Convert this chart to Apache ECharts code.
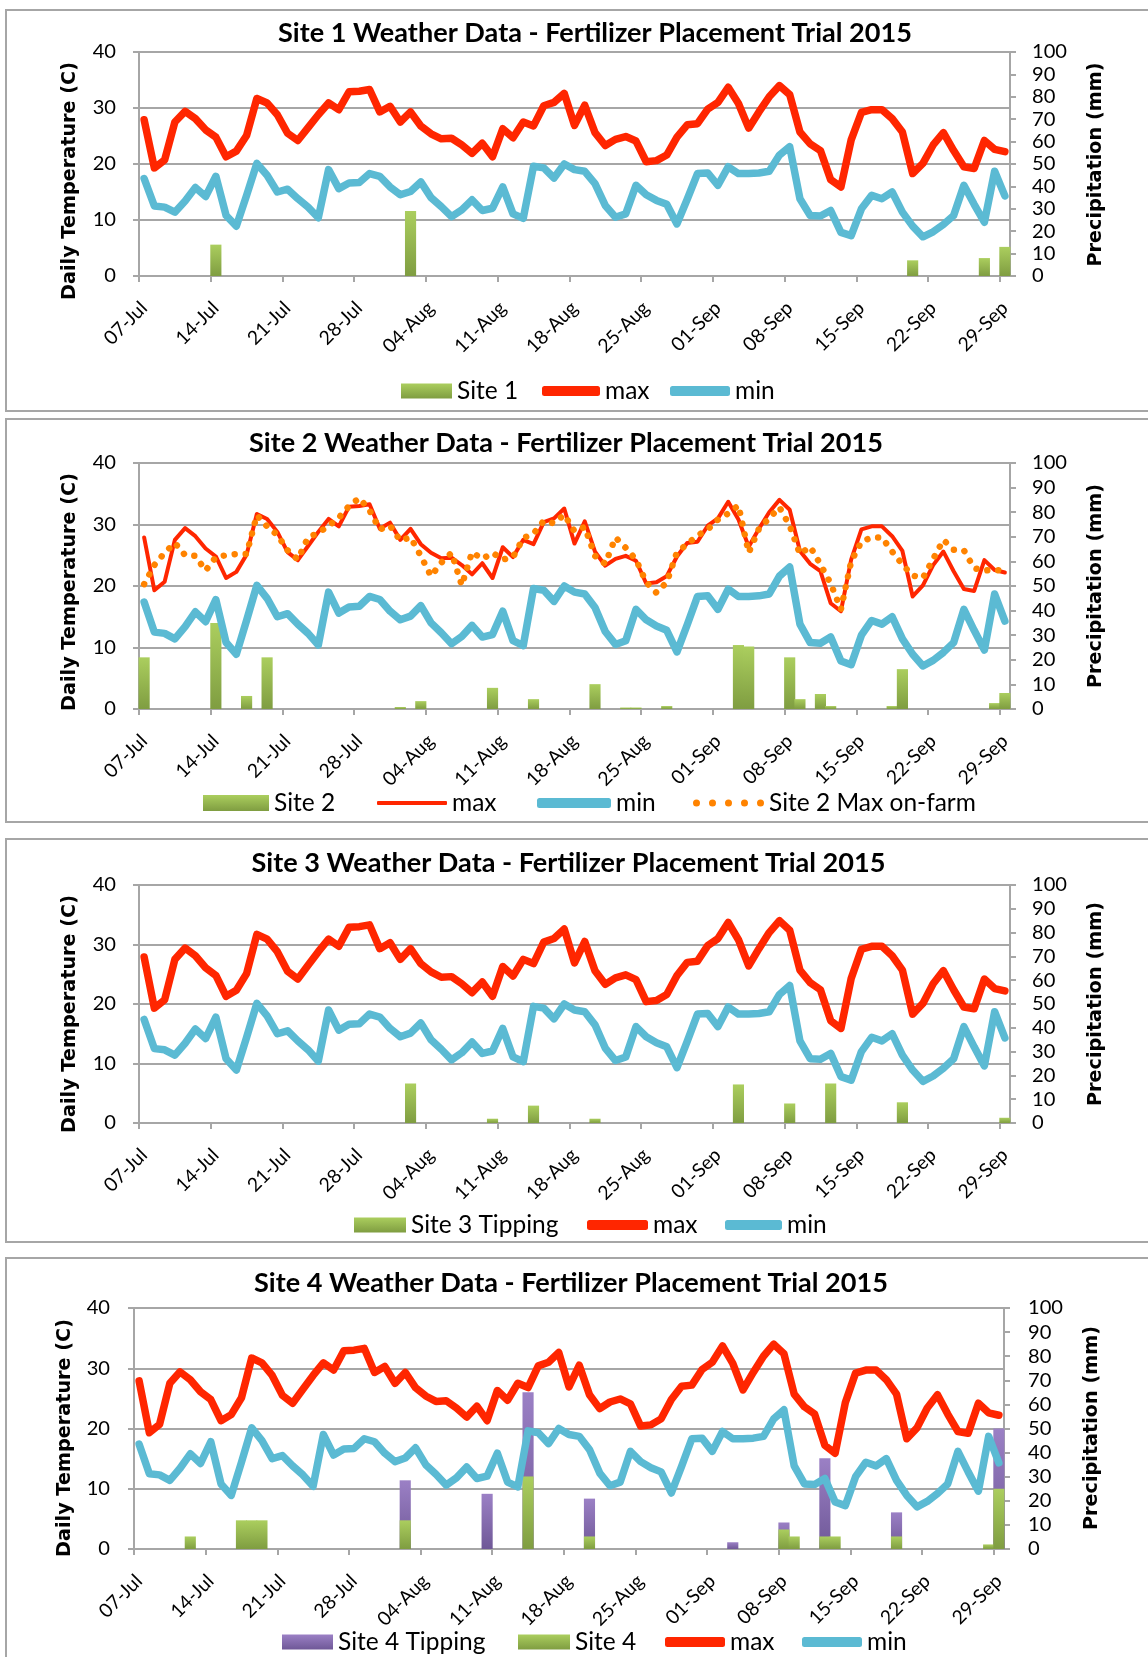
<!DOCTYPE html>
<html><head><meta charset="utf-8">
<script src="https://cdn.jsdelivr.net/npm/echarts@6/dist/echarts.min.js"></script>
<style>html,body{margin:0;padding:0;background:#fff;}#c{width:1148px;height:1657px;}</style>
</head><body><div id="c"></div>
<script>
// ---------------- DATA ----------------
const dayCount = 85; // 07-Jul .. 29-Sep
const tickLabels = ['07-Jul','14-Jul','21-Jul','28-Jul','04-Aug','11-Aug','18-Aug','25-Aug','01-Sep','08-Sep','15-Sep','22-Sep','29-Sep'];
const maxTemp = [27.9,19.3,20.7,27.5,29.4,28.1,26.1,24.8,21.3,22.3,25.1,31.7,30.9,28.8,25.5,24.2,26.5,28.8,30.9,29.7,32.9,33.0,33.3,29.3,30.3,27.5,29.3,26.8,25.4,24.5,24.6,23.4,21.9,23.7,21.3,26.3,24.7,27.5,26.8,30.4,31.0,32.6,26.9,30.5,25.6,23.3,24.4,24.9,24.1,20.4,20.6,21.6,24.8,27.0,27.2,29.8,31.0,33.7,30.8,26.4,29.3,32.0,34.0,32.4,25.7,23.6,22.4,17.2,15.9,24.3,29.2,29.7,29.7,28.1,25.7,18.3,20.1,23.4,25.6,22.4,19.5,19.2,24.2,22.6,22.2];
const minTemp = [17.4,12.5,12.3,11.4,13.4,15.8,14.2,17.8,10.8,8.9,14.4,20.1,18.0,15.0,15.5,13.8,12.3,10.4,19.0,15.6,16.6,16.7,18.3,17.8,15.9,14.5,15.1,16.8,14.0,12.4,10.6,11.8,13.6,11.7,12.1,15.9,11.1,10.3,19.6,19.3,17.5,20.0,19.0,18.7,16.5,12.6,10.5,11.1,16.2,14.5,13.5,12.8,9.3,13.7,18.3,18.4,16.2,19.5,18.3,18.3,18.4,18.7,21.6,23.1,13.8,10.8,10.7,11.7,7.8,7.2,12.0,14.4,13.8,15.0,11.4,8.9,7.0,7.9,9.2,10.8,16.2,12.8,9.6,18.7,14.3];
const site2OnFarmMax = [20.3,23.4,25.4,27.0,25.0,24.9,22.5,24.7,25.0,25.2,25.2,31.5,29.7,28.3,25.8,24.3,27.9,28.6,29.8,31.1,33.0,34.3,32.3,29.2,29.8,27.4,27.9,24.9,21.6,23.8,25.4,20.1,25.5,24.4,25.4,24.3,24.7,27.8,28.5,30.6,30.2,31.6,28.9,29.6,24.9,23.6,27.9,26.2,24.3,20.6,18.9,20.6,25.5,26.8,28.2,29.2,30.8,31.8,33.1,25.4,29.3,31.0,32.8,29.8,25.2,26.4,23.5,20.4,16.2,24.0,27.2,27.9,27.9,25.6,23.5,21.7,21.3,24.4,27.5,25.9,25.8,22.9,22.5,22.7,22.3];
// precipitation (mm): day index (0 = 07-Jul) and amount
const site1RainDay = [7, 26, 75, 82, 84];
const site1Rain    = [14, 29, 7, 8, 13];
const site2RainDay = [0, 7, 10, 12, 25, 27, 34, 38, 44, 47, 48, 51, 58, 59, 63, 64, 66, 67, 73, 74, 83, 84];
const site2Rain    = [21, 35, 5.3, 21, 0.8, 3.2, 8.6, 4, 10.1, 0.6, 0.6, 1.2, 26, 25.4, 21, 4, 6.1, 1.2, 1.2, 16.2, 2.4, 6.5];
const site3RainDay = [26, 34, 38, 44, 58, 63, 67, 74, 84];
const site3Rain    = [16.6, 1.8, 7.3, 1.8, 16.2, 8.2, 16.6, 8.7, 2.2];
const site4TipDay  = [26, 34, 38, 44, 58, 63, 67, 74, 84];
const site4Tip     = [28.5, 22.9, 65, 20.9, 2.8, 11, 37.7, 15.2, 50];
const site4RainDay = [5, 10, 11, 12, 26, 38, 44, 63, 64, 67, 68, 74, 83, 84];
const site4Rain    = [5.2, 11.9, 11.9, 11.9, 11.9, 30.1, 5.2, 8.1, 5.2, 5.2, 5.2, 5.2, 1.9, 25];

// ---------------- STYLE ----------------
const RED = '#ff2600', BLUE = '#5bbad3', ORANGE = '#ff8300', GRID = '#a6a6a6';
const GREEN = new echarts.graphic.LinearGradient(0,0,0,1,[{offset:0,color:'#abce5e'},{offset:1,color:'#7f9d41'}]);
const PURPLE = new echarts.graphic.LinearGradient(0,0,0,1,[{offset:0,color:'#9b80c5'},{offset:1,color:'#6f5897'}]);
const LF = 'Lato, "Liberation Sans", sans-serif';
const BF = '"DejaVu Sans", Verdana, sans-serif';
const mctx = document.createElement('canvas').getContext('2d');
function fit(text, weight, family, target){ mctx.font = weight + ' 100px ' + family; return 100*target/mctx.measureText(text).width; }
const titleSize = fit('Site 1 Weather Data - Fertilizer Placement Trial 2015','bold',LF,634);
const axisNameSize = fit('Daily Temperature (C)','bold',BF,238);
const legendSize = fit('Site 2 Max on-farm','normal',LF,207);
const tickSize = fit('100','normal',LF,35);
const xTickSize = fit('29-Sep','normal',LF,61);
const LH = 26;

const panels = [
  {grid:{left:139,top:52,width:871,height:224}, title:'Site 1 Weather Data - Fertilizer Placement Trial 2015', tx:595, ty:33,
   ln:[69.5,181], rn:[1096,164.5], box:[6,10,1180,401]},
  {grid:{left:139,top:463,width:871,height:246}, title:'Site 2 Weather Data - Fertilizer Placement Trial 2015', tx:566, ty:443,
   ln:[69.5,592], rn:[1096,586], box:[6,419,1180,403]},
  {grid:{left:139,top:885,width:871,height:238}, title:'Site 3 Weather Data - Fertilizer Placement Trial 2015', tx:568.5, ty:863,
   ln:[69.5,1014], rn:[1096,1004], box:[6,839,1180,403]},
  {grid:{left:134,top:1308,width:870,height:241}, title:'Site 4 Weather Data - Fertilizer Placement Trial 2015', tx:571, ty:1283,
   ln:[64.5,1438], rn:[1092,1428], box:[6,1258,1180,500]}
];

const option = {animation:false, backgroundColor:'#fff', grid:[], xAxis:[], yAxis:[], series:[], legend:[], graphic:[]};

panels.forEach((p,k) => {
  option.grid.push(p.grid);
  option.xAxis.push({type:'value', gridIndex:k, min:0, max:dayCount, interval:7,
    axisLine:{show:true, onZero:false, lineStyle:{color:GRID,width:2}},
    axisTick:{show:true, length:6, lineStyle:{color:GRID,width:2}},
    splitLine:{show:false},
    axisLabel:{rotate:45, margin:24, verticalAlign:'top', lineHeight:14, color:'#000', fontFamily:LF, fontSize:xTickSize, showMaxLabel:false,
      formatter: v => (v % 7 === 0 && tickLabels[v/7]) ? tickLabels[v/7] : ''}});
  option.yAxis.push({type:'value', gridIndex:k, position:'left', min:0, max:40, interval:10,
    axisLine:{show:true, lineStyle:{color:GRID,width:2}},
    axisTick:{show:true, length:6, lineStyle:{color:GRID,width:2}},
    splitLine:{show:true, lineStyle:{color:GRID,width:2}},
    axisLabel:{margin:k===3?24:23, color:'#000', fontFamily:LF, fontSize:tickSize}});
  option.yAxis.push({type:'value', gridIndex:k, position:'right', min:0, max:100, interval:10,
    axisLine:{show:true, lineStyle:{color:GRID,width:2}},
    axisTick:{show:true, length:6, lineStyle:{color:GRID,width:2}},
    splitLine:{show:false},
    axisLabel:{margin:k===3?24:22, color:'#000', fontFamily:LF, fontSize:tickSize}});
  option.graphic.push({type:'rect', z:-10, shape:{x:p.box[0],y:p.box[1],width:p.box[2],height:p.box[3]}, style:{fill:'none',stroke:GRID,lineWidth:2}});
  option.graphic.push({type:'text', x:p.tx, y:p.ty, style:{text:p.title, fontFamily:LF, fontWeight:'bold', fontSize:titleSize, fill:'#000', align:'center', verticalAlign:'middle'}});
  option.graphic.push({type:'text', x:p.ln[0], y:p.ln[1], rotation:Math.PI/2, style:{text:'Daily Temperature (C)', fontFamily:BF, fontWeight:'bold', fontSize:axisNameSize, fill:'#000', align:'center', verticalAlign:'middle'}});
  option.graphic.push({type:'text', x:p.rn[0], y:p.rn[1], rotation:Math.PI/2, style:{text:'Precipitation (mm)', fontFamily:BF, fontWeight:'bold', fontSize:axisNameSize, fill:'#000', align:'center', verticalAlign:'middle'}});
});

const pts = arr => arr.map((v,i) => [i+0.5, v]);
const sparse = (days, vals) => days.map((d,j) => [d+0.5, vals[j]]);
const dayW = k => option.grid[k].width/dayCount;

function bar(name, k, days, vals, color){
  option.series.push({name, type:'bar', xAxisIndex:k, yAxisIndex:2*k+1, barWidth:dayW(k)+0.9, barGap:'-100%',
    itemStyle:{color}, data:sparse(days, vals)});
}
function line(name, k, arr, color, width, dotted){
  option.series.push({name, type:'line', xAxisIndex:k, yAxisIndex:2*k, symbol:'none', showSymbol:false, color,
    itemStyle:{color},
    lineStyle: dotted ? {color, width, type:[0.01,11], cap:'round'} : {color, width, join:'round', cap:'round'},
    data:pts(arr)});
}
function leg(name, label, left, cy, w, h, icon, color){
  option.legend.push({data:[{name, icon, itemStyle:{color, borderWidth:0}}], formatter:()=>label, left, top:cy-Math.max(h,LH)/2,
    itemWidth:w, itemHeight:h, padding:0, selectedMode:false,
    textStyle:{fontFamily:LF, fontSize:legendSize, color:'#000', lineHeight:LH}});
}
const DOTS = 'path://' + [0,1,2,3,4].map(j => 'M'+(16*j)+',3.5a3.5,3.5 0 1,0 7,0a3.5,3.5 0 1,0 -7,0z').join('');

// Panel 1
bar('Site 1', 0, site1RainDay, site1Rain, GREEN);
line('max_1', 0, maxTemp, RED, 7.5);
line('min_1', 0, minTemp, BLUE, 7.5);
leg('Site 1','Site 1',401,391,51,15,'rect',GREEN);
leg('max_1','max',542,391,58,10,'roundRect',RED);
leg('min_1','min',670,391,60,10,'roundRect',BLUE);
// Panel 2
bar('Site 2', 1, site2RainDay, site2Rain, GREEN);
line('max_2', 1, maxTemp, RED, 4);
line('min_2', 1, minTemp, BLUE, 7.5);
line('onfarm_2', 1, site2OnFarmMax, ORANGE, 6.5, true);
leg('Site 2','Site 2',203,803,66,16,'rect',GREEN);
leg('max_2','max',377,803,70,4,'roundRect',RED);
leg('min_2','min',537,803,74,10,'roundRect',BLUE);
leg('onfarm_2','Site 2 Max on-farm',693,803,71,7,DOTS,ORANGE);
// Panel 3
bar('Site 3 Tipping', 2, site3RainDay, site3Rain, GREEN);
line('max_3', 2, maxTemp, RED, 7.5);
line('min_3', 2, minTemp, BLUE, 7.5);
leg('Site 3 Tipping','Site 3 Tipping',354,1225,52,15,'rect',GREEN);
leg('max_3','max',587,1225,61,10,'roundRect',RED);
leg('min_3','min',725,1225,57,10,'roundRect',BLUE);
// Panel 4
bar('Site 4 Tipping', 3, site4TipDay, site4Tip, PURPLE);
bar('Site 4', 3, site4RainDay, site4Rain, GREEN);
line('max_4', 3, maxTemp, RED, 7.5);
line('min_4', 3, minTemp, BLUE, 7.5);
leg('Site 4 Tipping','Site 4 Tipping',282,1642,51,15,'rect',PURPLE);
leg('Site 4','Site 4',518,1642,52,15,'rect',GREEN);
leg('max_4','max',665,1642,60,10,'roundRect',RED);
leg('min_4','min',802,1642,60,10,'roundRect',BLUE);

const chart = echarts.init(document.getElementById('c'), null, {renderer:'canvas', width:1148, height:1657});
chart.setOption(option);
</script></body></html>
